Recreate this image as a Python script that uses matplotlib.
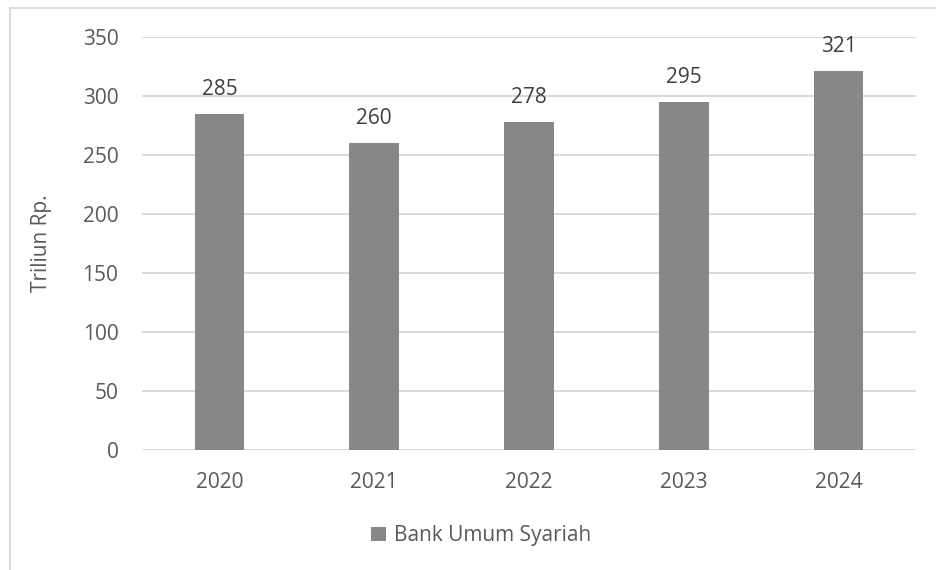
import matplotlib.pyplot as plt
from matplotlib.lines import Line2D
from matplotlib.patches import Patch

years = ['2020', '2021', '2022', '2023', '2024']
values = [285, 260, 278, 295, 321]
series_name = 'Bank Umum Syariah'

plt.rcParams['font.family'] = ['Open Sans', 'DejaVu Sans']
text_color = '#595959'
fs = 15

fig = plt.figure(figsize=(9.36, 5.7), dpi=100)
ax = fig.add_axes([0.1517, 0.2105, 0.8269, 0.7245])

x = range(len(years))
bars = ax.bar(x, values, width=0.32, color='#878787', zorder=3)

for xi, v in zip(x, values):
    ax.annotate(str(v), (xi, v), xytext=(0, 10), textcoords='offset points',
                ha='center', va='bottom', fontsize=fs, color='#404040')

ax.set_xlim(-0.5, len(years) - 0.5)
ax.set_ylim(0, 350)
ax.set_yticks(range(0, 351, 50))
ax.set_xticks(list(x))
ax.set_xticklabels(years)
ax.tick_params(axis='both', length=0, labelsize=fs, labelcolor=text_color)
ax.tick_params(axis='y', pad=17)
ax.tick_params(axis='x', pad=16)
ax.yaxis.grid(True, color='#d9d9d9', linewidth=1.4, zorder=0)
for s in ax.spines.values():
    s.set_visible(False)
ax.set_ylabel('Triliun Rp.', fontsize=fs, color=text_color, labelpad=22)

fig.legend(handles=[Patch(facecolor='#878787', label=series_name)],
           loc='center', bbox_to_anchor=(0.514, 0.06), frameon=False,
           fontsize=fs, labelcolor=text_color, handlelength=0.7,
           handleheight=0.7, handletextpad=0.4)

# outer chart border (top and left visible)
fig.add_artist(Line2D([9.5 / 936, 1], [1 - 7.5 / 570, 1 - 7.5 / 570], color='#d9d9d9', lw=1.3))
fig.add_artist(Line2D([9.5 / 936, 9.5 / 936], [0, 1 - 7.5 / 570], color='#d9d9d9', lw=1.3))

fig.savefig('out.png', dpi=100)
